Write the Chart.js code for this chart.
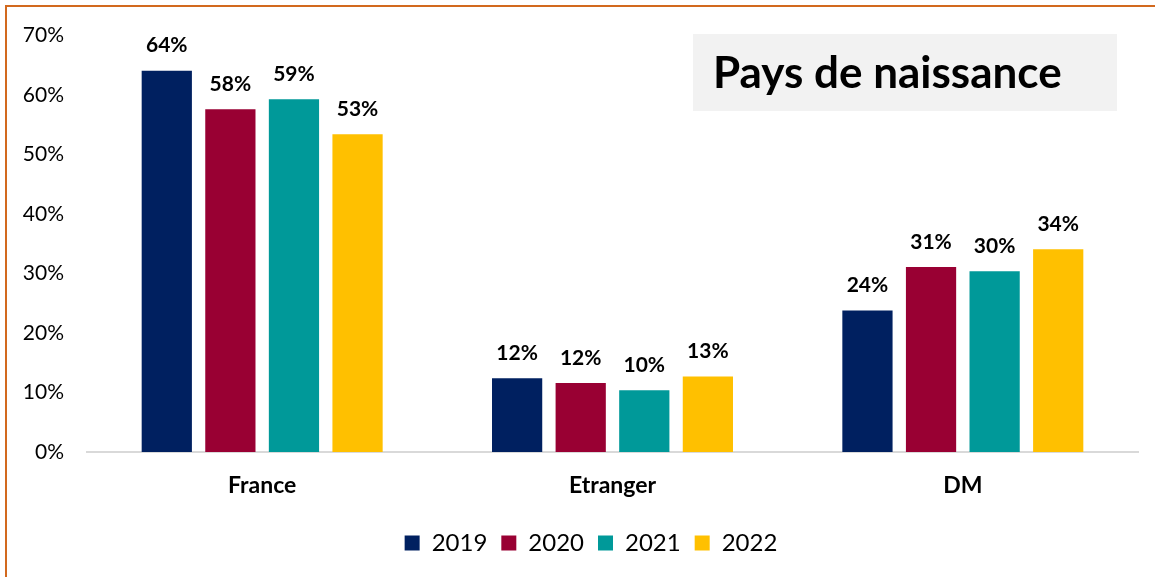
<!DOCTYPE html>
<html>
<head>
<meta charset="utf-8">
<script src="https://cdn.jsdelivr.net/npm/chart.js@4"></script>
<style>
  html, body { margin: 0; padding: 0; background: #fff; overflow: hidden; }
  #frame { position: absolute; left: 0; top: 0; width: 1155px; height: 577px; }
  #edge { position: absolute; left: 5px; top: 5px; width: 1200px; height: 600px;
          border-left: 2px solid #d2691e; border-top: 2px solid #d2691e; pointer-events: none; }
</style>
</head>
<body>
<div id="frame">
  <canvas id="chart" width="1155" height="577"></canvas>
  <div id="edge"></div>
</div>
<script>
const categories = ["France", "Etranger", "DM"];
const years = ["2019", "2020", "2021", "2022"];
const values2019 = [64.1, 12.4, 23.8];
const values2020 = [57.6, 11.6, 31.1];
const values2021 = [59.3, 10.4, 30.4];
const values2022 = [53.4, 12.7, 34.1];
const colors = ["#002060", "#990033", "#009999", "#ffc000"];
const yTicks = [0, 10, 20, 30, 40, 50, 60, 70];
const titleText = "Pays de naissance";

const FONT = "Lato, 'Open Sans', sans-serif";

// values on top of bars
const barLabels = {
    id: 'barLabels',
    afterDatasetsDraw(chart) {
        const ctx = chart.ctx;
        ctx.save();
        ctx.font = "bold 21px " + FONT;
        ctx.fillStyle = "#000";
        ctx.textAlign = "center";
        ctx.textBaseline = "middle";
        chart.data.datasets.forEach((ds, i) => {
            chart.getDatasetMeta(i).data.forEach((bar, j) => {
                ctx.fillText(Math.round(ds.data[j]) + "%", bar.x, bar.y - 25);
            });
        });
        ctx.restore();
    }
};

// grey title box at top right
const titleBox = {
    id: 'titleBox',
    afterDraw(chart) {
        const ctx = chart.ctx;
        ctx.save();
        ctx.fillStyle = "#f2f2f2";
        ctx.fillRect(693, 34, 424, 77);
        ctx.fillStyle = "#000";
        ctx.font = "bold 44px " + FONT;
        ctx.textAlign = "left";
        ctx.textBaseline = "middle";
        ctx.fillText(titleText, 713, 74);
        ctx.restore();
    }
};

// legend sits a bit right of the canvas centre in the original
const legendShift = {
    id: 'legendShift',
    afterLayout(chart) {
        chart.legend.left += 22;
        chart.legend.right += 22;
    }
};

new Chart(document.getElementById('chart'), {
    type: 'bar',
    data: {
        labels: categories,
        datasets: [
            { label: years[0], data: values2019, backgroundColor: colors[0] },
            { label: years[1], data: values2020, backgroundColor: colors[1] },
            { label: years[2], data: values2021, backgroundColor: colors[2] },
            { label: years[3], data: values2022, backgroundColor: colors[3] }
        ]
    },
    options: {
        responsive: false,
        animation: false,
        layout: { padding: { top: 29, right: 17, bottom: 12, left: 0 } },
        datasets: {
            bar: { barPercentage: 0.79, categoryPercentage: 0.726 }
        },
        scales: {
            x: {
                grid: { display: false },
                border: { display: true, color: "#d9d9d9", width: 2 },
                ticks: { color: "#000", font: { family: FONT, size: 23, weight: 'bold' }, padding: 12 },
                afterFit(scale) { scale.height = 65; }
            },
            y: {
                min: 0,
                max: 70,
                afterBuildTicks(scale) { scale.ticks = yTicks.map(v => ({ value: v })); },
                grid: { display: false, drawTicks: false },
                border: { display: false },
                ticks: {
                    color: "#000",
                    font: { family: FONT, size: 21 },
                    padding: 23,
                    callback: v => v + "%"
                },
                afterFit(scale) { scale.width = 87; }
            }
        },
        plugins: {
            legend: {
                position: 'bottom',
                labels: {
                    color: "#000",
                    font: { family: FONT, size: 24 },
                    boxWidth: 15,
                    boxHeight: 15,
                    padding: 14
                }
            },
            tooltip: { enabled: false }
        }
    },
    plugins: [barLabels, titleBox, legendShift]
});
</script>
</body>
</html>
